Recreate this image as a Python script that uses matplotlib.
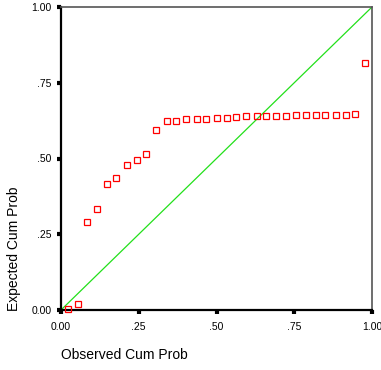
import matplotlib
matplotlib.use("Agg")
import matplotlib.pyplot as plt

observed = [0.022, 0.054, 0.084, 0.116, 0.149, 0.178, 0.212, 0.245, 0.274, 0.307,
            0.341, 0.371, 0.403, 0.436, 0.466, 0.500, 0.533, 0.564, 0.596, 0.629,
            0.658, 0.691, 0.724, 0.755, 0.787, 0.820, 0.850, 0.883, 0.915, 0.946, 0.979]
expected = [0.002, 0.020, 0.290, 0.332, 0.415, 0.435, 0.478, 0.494, 0.514, 0.593,
            0.623, 0.623, 0.629, 0.629, 0.629, 0.633, 0.633, 0.636, 0.639, 0.639,
            0.639, 0.639, 0.639, 0.643, 0.643, 0.643, 0.643, 0.643, 0.643, 0.646, 0.814]
ticks = [0.0, 0.25, 0.5, 0.75, 1.0]
tick_labels = ["0.00", ".25", ".50", ".75", "1.00"]

plt.rcParams['font.family'] = ['Liberation Sans', 'DejaVu Sans']
fig = plt.figure(figsize=(3.81, 3.70), dpi=100)
ax = fig.add_axes([61/381, 60/370, 311/381, 303/370])

ax.plot([0, 1], [0, 1], color='#22e01a', lw=0.9, zorder=2)
ax.plot(observed, expected, linestyle='none', marker='s', markersize=4.2,
        markerfacecolor='none', markeredgecolor='#ff0000', markeredgewidth=0.9,
        clip_on=False, zorder=3)

ax.set_xlim(0, 1)
ax.set_ylim(0, 1)
ax.set_xticks(ticks)
ax.set_xticklabels(tick_labels)
ax.set_yticks(ticks)
ax.set_yticklabels(tick_labels)
ax.tick_params(direction='out', length=3, width=3, colors='black', labelsize=7.5, pad=4)
ax.tick_params(axis='x', pad=6)

for s in ['left', 'bottom']:
    ax.spines[s].set_linewidth(1.6)
    ax.spines[s].set_color('black')
for s in ['top', 'right']:
    ax.spines[s].set_linewidth(1.2)
    ax.spines[s].set_color('#555555')

fig.text(61/381, 1 - 355/370, "Observed Cum Prob", fontsize=10, ha='left', va='center')
fig.text(14/381, 59/370, "Expected Cum Prob", fontsize=10, ha='center', va='bottom',
         rotation=90)

fig.savefig("out.png", dpi=100)
